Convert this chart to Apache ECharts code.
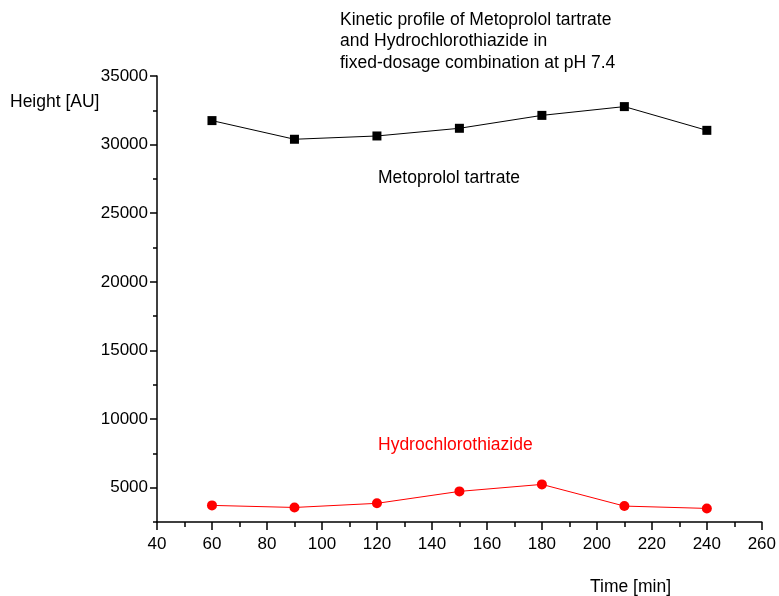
<!DOCTYPE html>
<html><head><meta charset="utf-8">
<script src="https://cdn.jsdelivr.net/npm/echarts@6/dist/echarts.min.js"></script>
<style>html,body{margin:0;padding:0;background:#fff}#c{width:779px;height:596px}</style>
</head><body><div id="c"></div>
<script>
const times = [60, 90, 120, 150, 180, 210, 240];
const metoprolol = [31750, 30390, 30630, 31190, 32130, 32770, 31040];
const hctz = [3710, 3560, 3860, 4730, 5240, 3660, 3490];
const yMajorTicks = [5000, 10000, 15000, 20000, 25000, 30000, 35000];

const chart = echarts.init(document.getElementById('c'));
const font = 'Liberation Sans, Arial, sans-serif';
chart.setOption({
  animation: false,
  backgroundColor: '#fff',
  textStyle: {fontFamily: font},
  title: {
    text: 'Kinetic profile of Metoprolol tartrate\nand Hydrochlorothiazide in\nfixed-dosage combination at pH 7.4',
    left: 335, top: 4,
    textStyle: {fontSize: 17.5, fontWeight: 'normal', color: '#000', lineHeight: 21.5, fontFamily: font}
  },
  grid: {left: 157, right: 17, top: 76, bottom: 74, containLabel: false},
  xAxis: {
    type: 'value', min: 40, max: 260, interval: 20,
    axisLine: {lineStyle: {color: '#000', width: 1.5}},
    axisTick: {length: 8, lineStyle: {color: '#000', width: 1.5}},
    minorTick: {show: true, splitNumber: 2, length: 5, lineStyle: {color: '#000', width: 1.5}},
    axisLabel: {color: '#000', fontSize: 17, margin: 14, fontFamily: font},
    splitLine: {show: false}
  },
  yAxis: [{
    type: 'value', min: 2500, max: 35000, interval: 2500,
    axisLine: {show: true, lineStyle: {color: '#000', width: 1.5}},
    axisTick: {show: true, length: 4, lineStyle: {color: '#000', width: 1.5}},
    axisLabel: {color: '#000', fontSize: 17, margin: 9, fontFamily: font,
      formatter: v => (v % 5000 === 0 ? String(v) : '')},
    splitLine: {show: false}
  }, {
    type: 'value', min: 2500, max: 35000, position: 'left',
    axisLine: {show: false},
    axisTick: {show: true, length: 7, customValues: yMajorTicks, lineStyle: {color: '#000', width: 1.5}},
    axisLabel: {show: false},
    splitLine: {show: false}
  }],
  series: [{
    type: 'line', data: times.map((t, i) => [t, metoprolol[i]]),
    symbol: 'rect', symbolSize: 9,
    itemStyle: {color: '#000'}, lineStyle: {color: '#000', width: 1}
  }, {
    type: 'line', data: times.map((t, i) => [t, hctz[i]]),
    symbol: 'circle', symbolSize: 10,
    itemStyle: {color: '#ff0000'}, lineStyle: {color: '#ff0000', width: 1}
  }],
  graphic: [
    {type: 'text', left: 10, top: 93, style: {text: 'Height [AU]', fontSize: 17.5, fill: '#000', fontFamily: font}},
    {type: 'text', left: 378, top: 169, style: {text: 'Metoprolol tartrate', fontSize: 17.5, fill: '#000', fontFamily: font}},
    {type: 'text', left: 378, top: 436, style: {text: 'Hydrochlorothiazide', fontSize: 17.5, fill: '#ff0000', fontFamily: font}},
    {type: 'text', left: 590, top: 578, style: {text: 'Time [min]', fontSize: 17.5, fill: '#000', fontFamily: font}}
  ]
});
</script></body></html>
